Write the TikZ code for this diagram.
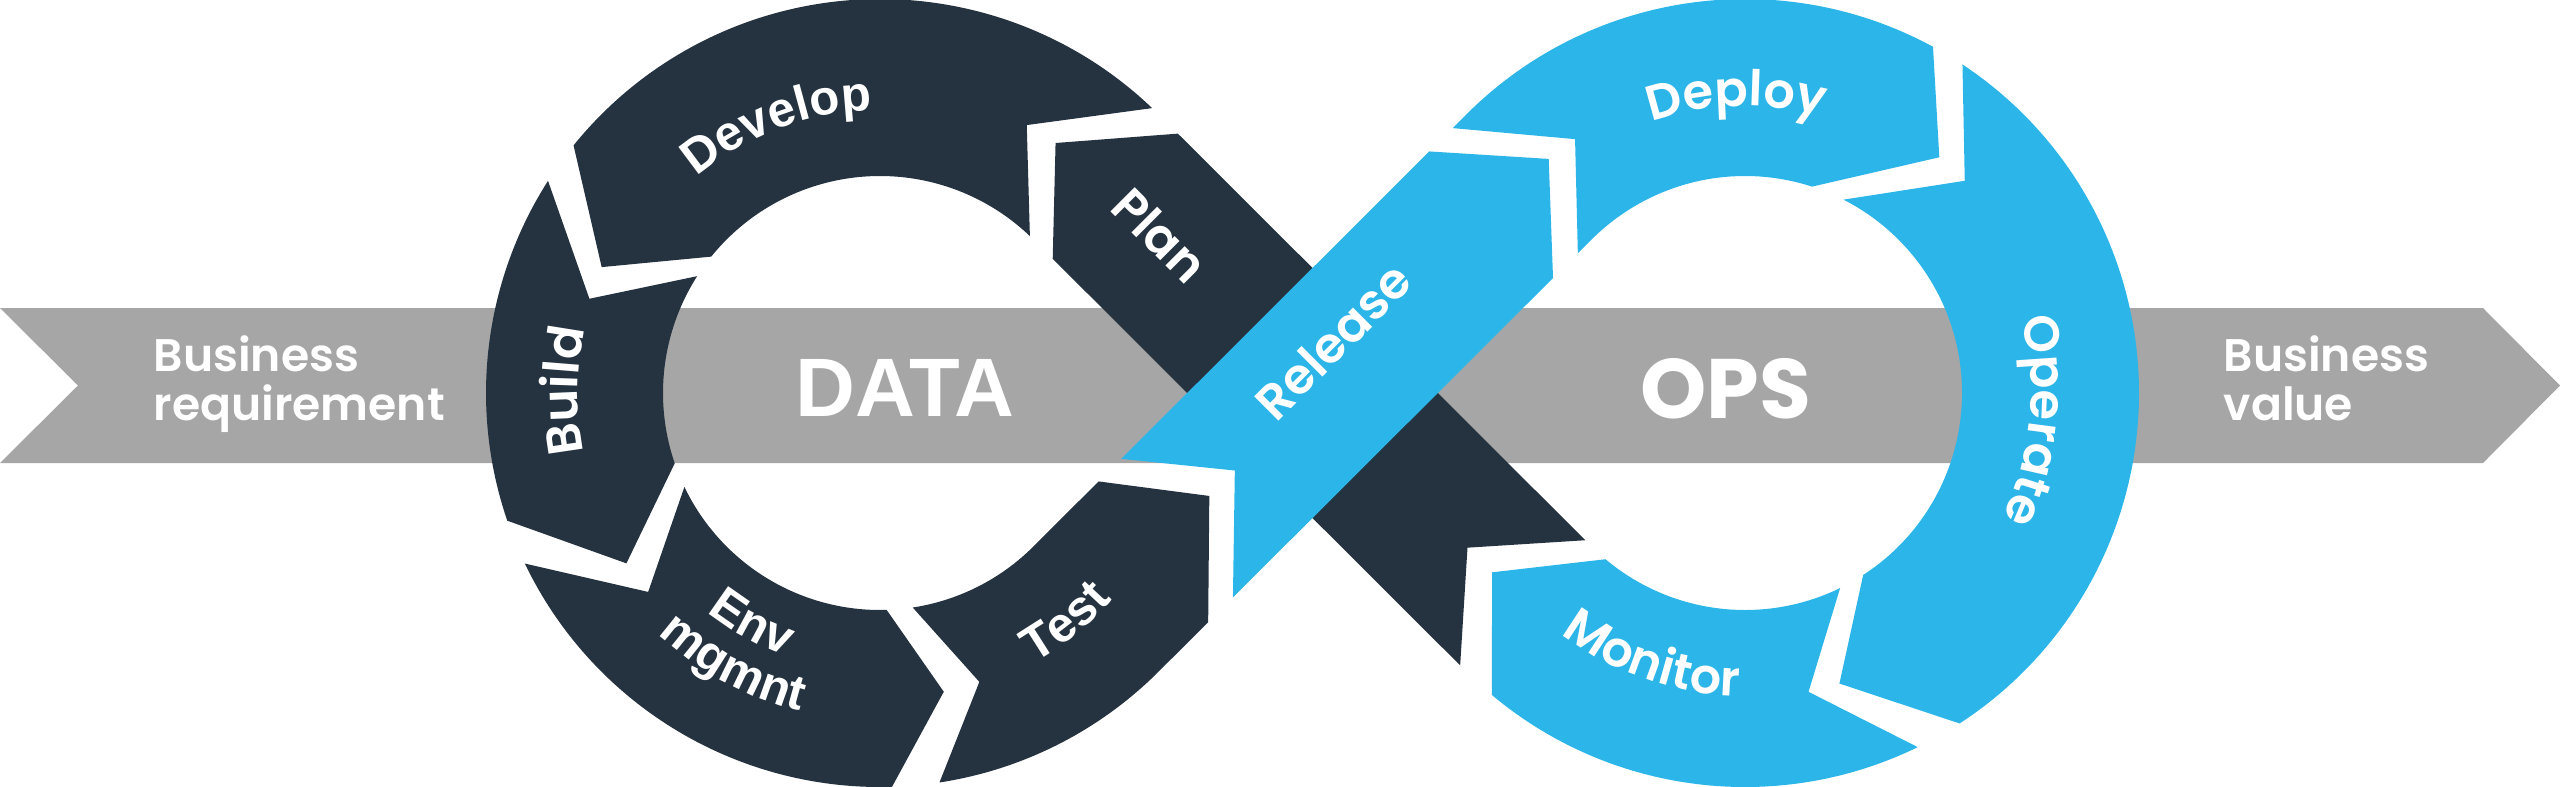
\documentclass[tikz,border=0pt]{standalone}
\usepackage{fontspec}
\setmainfont{Poppins}
\newfontfamily\popsb{Poppins SemiBold}
\newfontfamily\arb{Liberation Sans}[UprightFont={* Bold}]
\usetikzlibrary{calc,decorations.text}
\definecolor{navy}{RGB}{37,51,64}
\definecolor{skyb}{RGB}{43,181,232}
\definecolor{bandgrey}{RGB}{166,166,166}
\newcommand{\lblfont}{\popsb\fontsize{14}{14}\selectfont}
\newcommand{\lblfontb}{\arb\fontsize{14}{14}\selectfont}
\def\Ro{394}
\def\Ri{217}
\def\Rm{305.5}
\begin{document}
\begin{tikzpicture}[x=0.1mm,y=0.1mm,
  darkseg/.style={fill=navy},
  cyanseg/.style={fill=skyb},
  bandtxt/.style={text=white,font=\popsb\fontsize{13}{13}\selectfont,inner sep=0pt},
  lbl/.style={text=white,font=\lblfont,inner sep=0pt},
  arclbl/.style={decorate,decoration={text along path,text={|\lblfont|#1},text align=center,text color=white}},
  arclblb/.style={decorate,decoration={text along path,text={|\lblfontb|#1},text align=center,text color=white}}
]
\useasboundingbox (0,0) rectangle (2560,786);
% grey band
\fill[bandgrey] (0,478) -- (2483,478) -- (2560,400.5) -- (2483,323) -- (0,323) -- (78,400.5) -- cycle;
\node[bandtxt,anchor=base west] (br1) at (153,414.3) {Business};
\node[bandtxt,anchor=base west] (br2) at (153,366) {requirement};
\node[bandtxt,anchor=base west] (bv1) at (2223,414.3) {Business};
\node[bandtxt,anchor=base west] (bv2) at (2223,366) {value};
% geometry
\coordinate (C1) at (880,393);
\coordinate (C2) at (1745,393);
\coordinate (RA1) at ($(C1)+(315:\Ri)$);
\coordinate (RA2) at ($(C2)+(135:\Ro)$);
\coordinate (RB1) at ($(C1)+(315:\Ro)$);
\coordinate (RB2) at ($(C2)+(135:\Ri)$);
\coordinate (RC1) at ($(C1)+(315:\Rm)$);
\coordinate (RC2) at ($(C2)+(135:\Rm)$);
\coordinate (DA1) at ($(C2)+(225:\Ro)$);
\coordinate (DA2) at ($(C1)+(45:\Ri)$);
\coordinate (DB1) at ($(C2)+(225:\Ri)$);
\coordinate (DB2) at ($(C1)+(45:\Ro)$);
\coordinate (DC1) at ($(C2)+(225:\Rm)$);
\coordinate (DC2) at ($(C1)+(45:\Rm)$);
% Plan
\fill[darkseg] ($(DA1)!0.0144!(DA2)$) -- ($(DA1)!0.9555!(DA2)$) -- ($(C1)+(54.92:\Rm)$) -- ($(DB1)!0.9555!(DB2)$) -- ($(DB1)!0.0144!(DB2)$) -- ($(DC1)!0.1420!(DC2)$) -- cycle;
% Develop
\fill[darkseg] ($(C1)+(46.31:\Ro)$) arc[start angle=46.31,end angle=141.06,radius=\Ro] -- ($(C1)+(155.66:\Rm)$) -- ($(C1)+(141.06:\Ri)$) arc[start angle=141.06,end angle=46.31,radius=\Ri] -- ($(C1)+(61.29:\Rm)$) -- cycle;
% Build
\fill[darkseg] ($(C1)+(147.42:\Ro)$) arc[start angle=147.42,end angle=198.91,radius=\Ro] -- ($(C1)+(213.89:\Rm)$) -- ($(C1)+(198.91:\Ri)$) arc[start angle=198.91,end angle=147.42,radius=\Ri] -- ($(C1)+(162.03:\Rm)$) -- cycle;
% Env
\fill[darkseg] ($(C1)+(205.65:\Ro)$) arc[start angle=205.65,end angle=271.75,radius=\Ro] -- ($(C1)+(282.05:\Rm)$) -- ($(C1)+(271.75:\Ri)$) arc[start angle=271.75,end angle=205.65,radius=\Ri] -- ($(C1)+(220.63:\Rm)$) -- cycle;
% Test
\fill[darkseg] ($(C1)+(278.68:\Ro)$) arc[start angle=278.68,end angle=315,radius=\Ro] -- ($(RB1)!0.1145!(RB2)$) -- ($(RC1)!0.2617!(RC2)$) -- ($(RA1)!0.1505!(RA2)$) -- (RA1) arc[start angle=315,end angle=278.68,radius=\Ri] -- ($(C1)+(288.98:\Rm)$) -- cycle;
% Release
\fill[cyanseg] ($(RB1)!0.1717!(RB2)$) -- ($(RB1)!0.9110!(RB2)$) -- ($(C2)+(129.98:\Rm)$) -- ($(RA1)!0.9143!(RA2)$) -- ($(RA1)!0.2028!(RA2)$) -- ($(RC1)!0.3206!(RC2)$) -- cycle;
% Deploy
\fill[cyanseg] ($(RA1)!0.9683!(RA2)$) -- (RA2) arc[start angle=135,end angle=61.5,radius=\Ro] -- ($(C2)+(50.5:\Rm)$) -- ($(C2)+(72:\Ri)$) arc[start angle=72,end angle=135,radius=\Ri] -- ($(RB1)!0.9683!(RB2)$) -- ($(C2)+(123.8:\Rm)$) -- cycle;
% Operate
\fill[cyanseg] ($(C2)+(56.5:\Ro)$) arc[start angle=56.5,end angle=-57,radius=\Ro] -- ($(C2)+(-72:\Rm)$) -- ($(C2)+(-57:\Ri)$) arc[start angle=-57,end angle=63,radius=\Ri] -- ($(C2)+(44:\Rm)$) -- cycle;
% Monitor
\fill[cyanseg] ($(C2)+(-64:\Ro)$) arc[start angle=-64,end angle=-130,radius=\Ro] -- ($(DC1)!0.0850!(DC2)$) -- ($(C2)+(-130:\Ri)$) arc[start angle=-130,end angle=-64,radius=\Ri] -- ($(C2)+(-78:\Rm)$) -- cycle;
% centre words
\node[text=white,font=\arb\fontsize{23.6}{23.6}\selectfont,inner sep=0pt,anchor=base] (data) at (905,369.3) {DATA};
\node[text=white,font=\bfseries\fontsize{24}{24}\selectfont,inner sep=0pt,anchor=base] (ops) at (1726,368) {OPS};
% labels
\path[arclblb=Develop] ($(C1)+(151:283)$) arc[start angle=151,end angle=71,radius=283];
\path[arclbl=Build] ($(C1)+(219.6:302)$) arc[start angle=219.6,end angle=139.6,radius=302];
\path[arclblb=Env] ($(C1)+(221:279)$) arc[start angle=221,end angle=261,radius=279];
\path[arclblb=mgmnt] ($(C1)+(221.6:328)$) arc[start angle=221.6,end angle=261.6,radius=328];
\path[arclblb=Test] ($(C1)+(289:311)$) arc[start angle=289,end angle=329,radius=311];
\path[arclbl=Deploy] ($(C2)+(131.7:287)$) arc[start angle=131.7,end angle=51.7,radius=287];
\path[arclbl=Operate] ($(C2)+(34.5:286)$) arc[start angle=34.5,end angle=-45.5,radius=286];
\path[arclbl=Monitor] ($(C2)+(230.7:303)$) arc[start angle=230.7,end angle=270.7,radius=303];
\node[lbl,rotate=45] (rel) at (1333,445) {Release};
\node[lbl,rotate=-45] (plan) at (1160,551) {Plan};
\end{tikzpicture}
\end{document}
